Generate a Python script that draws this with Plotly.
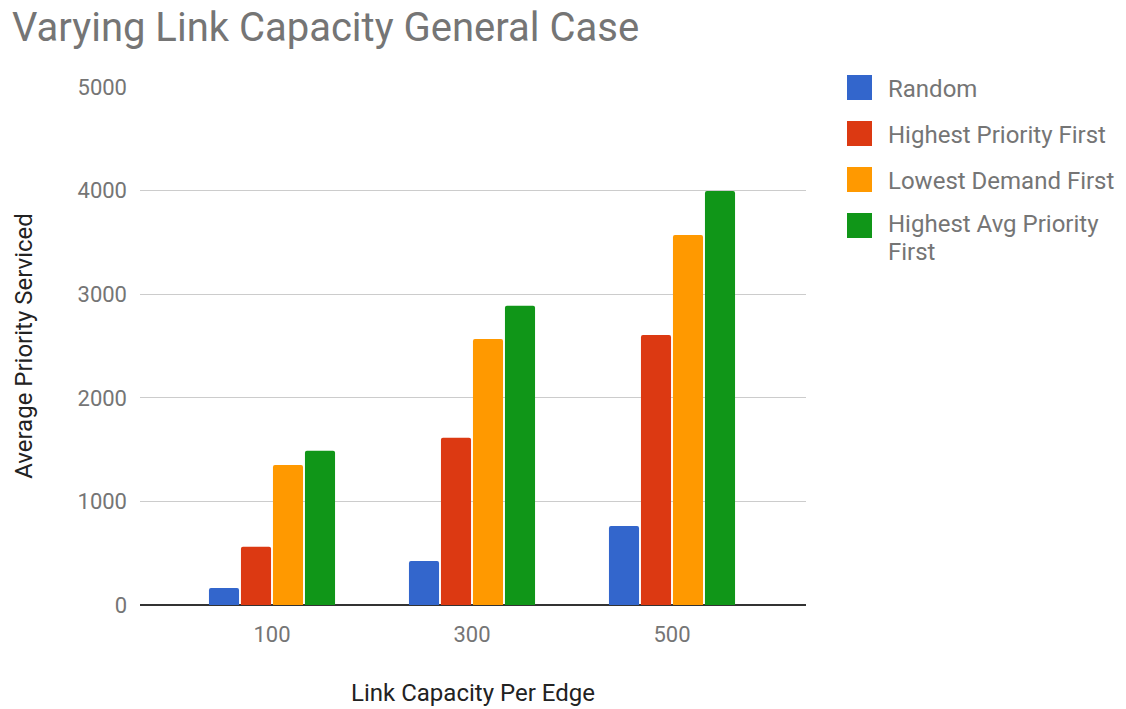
import plotly.graph_objects as go

# Link capacity per edge (x categories)
capacities = ["100", "300", "500"]

# Average priority serviced per heuristic
random_vals = [164, 425, 763]
highest_priority_first = [563, 1615, 2606]
lowest_demand_first = [1351, 2568, 3571]
highest_avg_priority_first = [1490, 2889, 3996]

series_names = ["Random", "Highest Priority First", "Lowest Demand First",
                "Highest Avg Priority First"]
# legend text, split into the lines it wraps onto
legend_lines = [["Random"], ["Highest Priority First"], ["Lowest Demand First"],
                ["Highest Avg Priority", "First"]]
colors = ["#3366cc", "#dc3912", "#ff9900", "#109618"]
series_values = [random_vals, highest_priority_first, lowest_demand_first,
                 highest_avg_priority_first]

FONT = "Roboto, Arial, sans-serif"
GREY = "#757575"

# plot area in pixels, used to place the hand-drawn legend
PL, PT, PW, PH = 140, 87, 666, 518


def px_x(x):
    return (x - PL) / PW


def px_y(y):
    return 1 - (y - PT) / PH


fig = go.Figure()
for name, vals, col in zip(series_names, series_values, colors):
    fig.add_trace(go.Bar(
        x=capacities, y=vals, name=name,
        marker=dict(color=col, line=dict(width=0), cornerradius=2),
        showlegend=False,
    ))

# Legend: coloured squares with labels to the right of the plot
sq_left, sq_size = 847, 25
sq_tops = [75, 121, 167, 213]
line_step = 28
shapes = []
annotations = []
for lines, col, top in zip(legend_lines, colors, sq_tops):
    shapes.append(dict(type="rect", xref="paper", yref="paper",
                       x0=px_x(sq_left), x1=px_x(sq_left + sq_size),
                       y0=px_y(top + sq_size), y1=px_y(top),
                       fillcolor=col, line=dict(width=0), layer="above"))
    shift = -2.5 if len(lines) > 1 else 0
    for i, txt in enumerate(lines):
        annotations.append(dict(xref="paper", yref="paper",
                                x=px_x(886),
                                y=px_y(top + sq_size / 2 + 1 + shift + i * line_step),
                                xanchor="left", yanchor="middle", align="left",
                                text=txt, showarrow=False,
                                font=dict(family=FONT, size=24, color=GREY)))

fig.update_layout(
    width=1126, height=709,
    margin=dict(l=PL, r=1126 - PL - PW, t=PT, b=709 - PT - PH),
    paper_bgcolor="white", plot_bgcolor="white",
    barmode="group", bargap=0.36, bargroupgap=0.06,
    title=dict(text="Varying Link Capacity General Case",
               x=12 / 1126, xanchor="left", xref="container",
               y=1 - 27 / 709, yanchor="middle", yref="container",
               font=dict(family=FONT, size=40, color=GREY)),
    xaxis=dict(
        type="category", range=[-0.66, 2.67], automargin=False,
        tickfont=dict(family=FONT, size=22, color=GREY),
        showgrid=False, showline=False, ticks="", ticklabelstandoff=14,
        title=dict(text="Link Capacity Per Edge", standoff=38,
                   font=dict(family=FONT, size=24, color="#222222")),
    ),
    yaxis=dict(
        range=[0, 5000], tickvals=[0, 1000, 2000, 3000, 4000, 5000],
        automargin=False,
        tickfont=dict(family=FONT, size=22, color=GREY),
        showgrid=True, gridcolor="#cccccc", gridwidth=1,
        zeroline=True, zerolinecolor="#333333", zerolinewidth=2,
        showline=False, ticks="", ticklabelstandoff=12,
        title=dict(text="Average Priority Serviced", standoff=38,
                   font=dict(family=FONT, size=24, color="#222222")),
    ),
    shapes=shapes, annotations=annotations,
)

fig.write_html("out.html")
